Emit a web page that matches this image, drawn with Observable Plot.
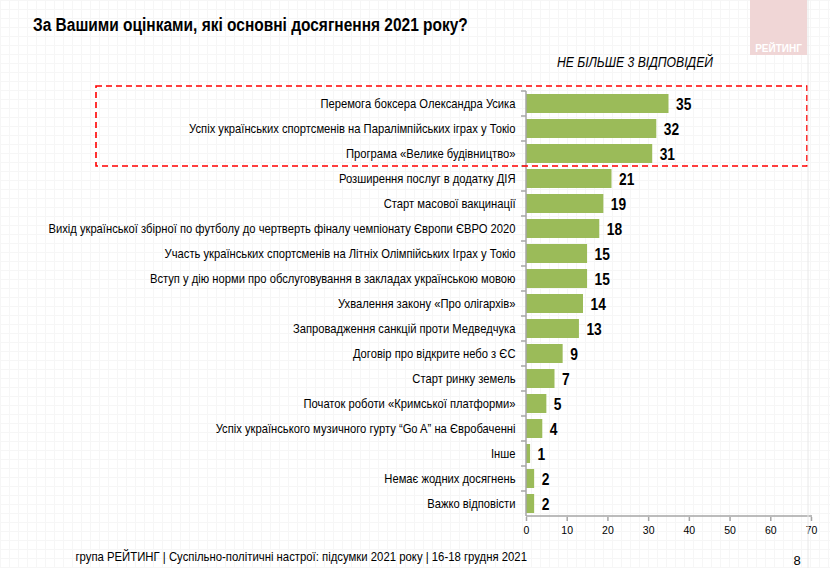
<!DOCTYPE html>
<html><head><meta charset="utf-8">
<script src="https://cdn.jsdelivr.net/npm/d3@7"></script>
<script src="https://cdn.jsdelivr.net/npm/@observablehq/plot@0.6"></script>
<style>
html,body{margin:0;padding:0;background:#fff;}
body{width:830px;height:568px;overflow:hidden;
background-image:linear-gradient(#f6f6f6 1px,transparent 1px),linear-gradient(90deg,#f6f6f6 1px,transparent 1px);
background-size:9px 9px;}
#chart svg{display:block;background:transparent;}
</style></head>
<body><div id="chart"></div>
<script>
const title = "За Вашими оцінками, які основні досягнення 2021 року?";
const subtitle = "НЕ БІЛЬШЕ 3 ВІДПОВІДЕЙ";
const footer = "група РЕЙТИНГ | Суспільно-політичні настрої: підсумки 2021 року | 16-18 грудня 2021";
const pageNo = "8";
const logo = "РЕЙТИНГ";
const categories = [
  "Перемога боксера Олександра Усика",
  "Успіх українських спортсменів на Паралімпійських іграх у Токіо",
  "Програма «Велике будівництво»",
  "Розширення послуг в додатку ДІЯ",
  "Старт масової вакцинації",
  "Вихід української збірної по футболу до чертверть фіналу чемпіонату Європи ЄВРО 2020",
  "Участь українських спортсменів на Літніх Олімпійських Іграх у Токіо",
  "Вступ у дію норми про обслуговування в закладах українською мовою",
  "Ухвалення закону «Про олігархів»",
  "Запровадження санкцій проти Медведчука",
  "Договір про відкрите небо з ЄС",
  "Старт ринку земель",
  "Початок роботи «Кримської платформи»",
  "Успіх українського музичного гурту “Go A” на Євробаченні",
  "Інше",
  "Немає жодних досягнень",
  "Важко відповісти"
];
const values = [35,32,31,21,19,18,15,15,14,13,9,7,5,4,1,2,2];
const xTicks = [0,10,20,30,40,50,60,70];
const highlighted = categories.slice(0,3);

const data = categories.map((c,i)=>({cat:c, v:values[i]}));
const font = "'Liberation Sans',Arial,sans-serif";

const plot = Plot.plot({
  width: 830, height: 568,
  marginLeft: 526, marginRight: 19, marginTop: 91, marginBottom: 51,
  style: {fontFamily: font, fontSize: "12px", color: "#000", background: "transparent", overflow: "visible"},
  x: {domain: [0,70], ticks: xTicks, label: null},
  y: {domain: categories, label: null, paddingInner: 0.24, paddingOuter: 0.12, axis: null},
  marks: [
    Plot.barX(data, {x: "v", y: "cat", fill: "#9bbb59"}),
    Plot.text(data, {x: "v", y: "cat", text: d => String(d.v), textAnchor: "start", dx: 7, dy: 1,
      fontWeight: "bold", fontSize: 16, fill: "#000", className: "vlab"}),
    Plot.text(data, {x: 0, y: "cat", text: "cat", textAnchor: "end", dx: -11, fontSize: 13.5, fill: "#000", className: "clab"}),
    Plot.axisX({ticks: xTicks, tickSize: 4, stroke: "#a6a6a6", fontSize: 10.5, tickPadding: 5, label: null, fill:"#000"})
  ]
});
document.getElementById("chart").appendChild(plot);

const svg = d3.select(plot);
const y = plot.scale("y"), x = plot.scale("x");
const x0 = x.apply(0), x70 = x.apply(70);
const bw = y.bandwidth, step = y.step;
const top0 = c => y.apply(c) - (step - bw)/2;
const yStart = top0(categories[0]);
const yEnd = top0(categories[categories.length-1]) + step;
// axis lines
const g = svg.append("g").attr("stroke", "#a6a6a6").attr("stroke-width", 1.5);
g.append("line").attr("x1", x0).attr("x2", x0).attr("y1", yStart).attr("y2", yEnd);
g.append("line").attr("x1", x0).attr("x2", x70+1).attr("y1", yEnd).attr("y2", yEnd);
categories.forEach(c=>{
  const yy = top0(c);
  g.append("line").attr("x1", x0-5).attr("x2", x0).attr("y1", yy).attr("y2", yy);
});
svg.selectAll("[aria-label='x-axis tick'] path").attr("stroke","#a6a6a6").attr("stroke-width",1.5);
// highlight box
const hy1 = top0(highlighted[0]) - 5;
const hy2 = top0(highlighted[highlighted.length-1]) + step;
svg.append("rect").attr("x", 96).attr("y", hy1).attr("width", 711).attr("height", hy2-hy1)
  .attr("fill","none").attr("stroke","#ff0000").attr("stroke-width",1.6).attr("stroke-dasharray","6,4");
function addText(txt, xx, yy, anchor, size, extra) {
  const t = svg.append("text").attr("x", xx).attr("y", yy).attr("text-anchor", anchor)
    .attr("font-family", font).attr("font-size", size).attr("fill", "#000").text(txt);
  if (extra) extra(t);
  return t;
}
const tTitle = addText(title, 33, 31, "start", 18, t => t.attr("font-weight","bold"));
const tSub = addText(subtitle, 713, 67, "end", 14, t => t.attr("font-style","italic"));
svg.append("rect").attr("x",750).attr("y",0).attr("width",57).attr("height",55).attr("fill","#f0d6d6");
addText(logo, 778.5, 52, "middle", 10, t => t.attr("font-weight","bold").attr("fill","#fff"));
svg.append("line").attr("x1",808).attr("x2",808).attr("y1",0).attr("y2",568).attr("stroke","#e8e8e8");
const tFoot = addText(footer, 527, 561, "end", 13.5);
addText(pageNo, 797, 565, "middle", 13);

// condense texts to mimic a narrow typeface
function condense(sel, k) {
  sel.each(function() {
    const len = this.getComputedTextLength();
    this.setAttribute("textLength", (len * k).toFixed(1));
    this.setAttribute("lengthAdjust", "spacingAndGlyphs");
  });
}
condense(svg.selectAll(".clab text"), 0.83);
condense(svg.selectAll(".vlab text"), 0.86);
condense(tTitle, 0.86);
condense(tSub, 0.87);
condense(tFoot, 0.84);
</script></body></html>
